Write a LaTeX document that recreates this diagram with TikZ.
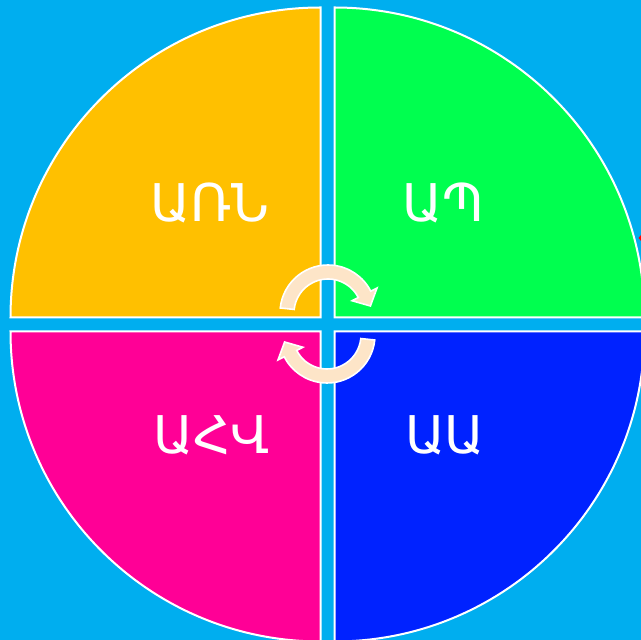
\documentclass[tikz,border=0pt]{standalone}
\usepackage{fontspec}
\newfontfamily\armfont{DejaVu Sans}
\definecolor{bg}{HTML}{00AEEF}
\definecolor{secA}{HTML}{FFC000}
\definecolor{secB}{HTML}{00FF4F}
\definecolor{secC}{HTML}{FF0096}
\definecolor{secD}{HTML}{0022FF}
\definecolor{cream}{HTML}{FDE5C8}
\tikzset{
  sector/.style={draw=white, line width=2pt},
  lbl/.style={text=white, font=\armfont\fontsize{52}{60}\selectfont, inner sep=0pt},
  cyc/.style={fill=cream, draw=white, line width=1.6pt, line join=miter}
}
\begin{document}
\begin{tikzpicture}[x=1pt,y=1pt]
\useasboundingbox (0,0) rectangle (641,640);
\fill[bg] (0,0) rectangle (641,640);
\begin{scope}
\clip (0,0) rectangle (641,640);
% sectors
\draw[sector, fill=secA] (320.5,322.5) -- ++(180:310pt) arc[start angle=180, end angle=90, radius=310pt] -- cycle;
\draw[sector, fill=secB] (334.5,322.5) -- ++(90:310pt) arc[start angle=90, end angle=0, radius=310pt] -- cycle;
\draw[sector, fill=secC] (320.5,308.5) -- ++(270:310pt) arc[start angle=270, end angle=180, radius=310pt] -- cycle;
\draw[sector, fill=secD] (334.5,308.5) -- ++(0:310pt) arc[start angle=360, end angle=270, radius=310pt] -- cycle;
% small red mark at right edge
\fill[red] (638.5,402) -- (641,405) -- (641,399) -- cycle;
\end{scope}
% labels
\node[lbl] (t1) at (210,437) {ԱՌՆ};
\node[lbl] (t2) at (443,437) {ԱՊ};
\node[lbl] (t3) at (212,205) {ԱՀՎ};
\node[lbl] (t4) at (445,205) {ԱԱ};
% circular arrows
\begin{scope}[shift={(328,327)}]
\draw[cyc] (174:48pt) arc[start angle=174, end angle=27, radius=48pt]
  -- (27:55pt) -- (42.4,7.0) -- (27:27pt) -- (27:34pt)
  arc[start angle=27, end angle=174, radius=34pt] -- cycle;
\end{scope}
\begin{scope}[shift={(327,305)}, rotate=180]
\draw[cyc] (174:48pt) arc[start angle=174, end angle=27, radius=48pt]
  -- (27:55pt) -- (42.4,7.0) -- (27:27pt) -- (27:34pt)
  arc[start angle=27, end angle=174, radius=34pt] -- cycle;
\end{scope}
\end{tikzpicture}
\end{document}
